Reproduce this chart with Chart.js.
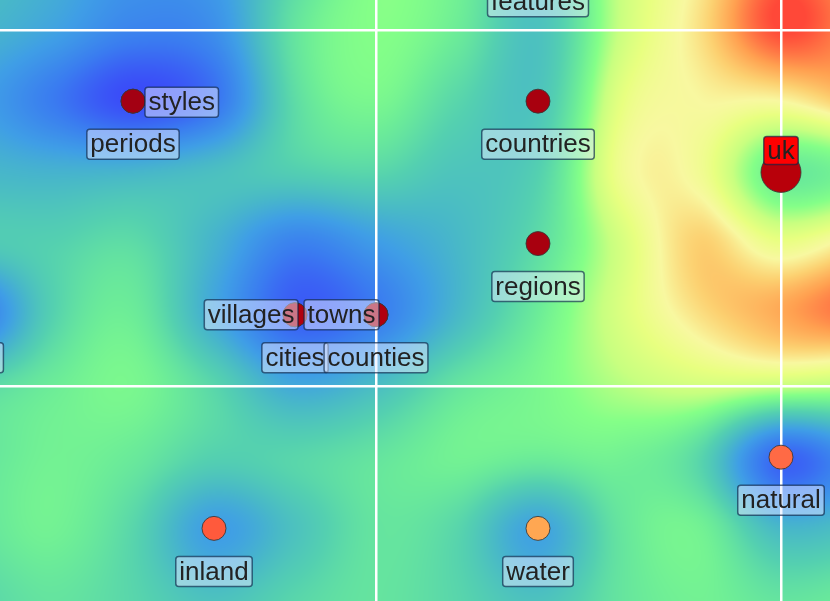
<!DOCTYPE html>
<html><head><meta charset="utf-8">
<script src="https://cdn.jsdelivr.net/npm/chart.js@4/dist/chart.umd.min.js"></script>
<style>html,body{margin:0;padding:0;background:#fff;overflow:hidden}#wrap{width:830px;height:601px}</style>
</head><body><div id="wrap"><canvas id="c" width="830" height="601"></canvas></div>
<script>
// ---- data ----
const words  = ['styles','periods','features','countries','uk','regions','villages','cities','towns','counties','parts','natural','inland','water'];
const wordX  = [-3, -3, 2, 2, 5, 2, -1, -1, 0, 0, -5, 5, -2, 2];
const wordY  = [ 4,  4, 6, 4, 3, 2,  1,  1, 1, 1,  1, -1, -2, -2];

// heat-map field at integer map nodes
const heatX = [-5,-4,-3,-2,-1,0,1,2,3,4,5,6];
const heatY = [6,5,4,3,2,1,0,-1,-2,-3,-4];
const heatRow6  = [0.42,0.35,0.25,0.28,0.50,0.65,0.60,0.45,0.72,0.84,0.97,0.92];
const heatRow5  = [0.38,0.30,0.18,0.22,0.55,0.65,0.58,0.42,0.72,0.86,1.00,0.94];
const heatRow4  = [0.30,0.15,0.00,0.12,0.52,0.62,0.50,0.43,0.77,0.83,0.83,0.90];
const heatRow3  = [0.38,0.36,0.37,0.41,0.47,0.50,0.43,0.48,0.80,0.81,0.58,0.62];
const heatRow2  = [0.45,0.48,0.52,0.36,0.17,0.27,0.38,0.52,0.74,0.88,0.79,0.86];
const heatRow1  = [0.12,0.48,0.58,0.32,0.06,0.15,0.38,0.58,0.75,0.86,0.92,0.97];
const heatRow0  = [0.50,0.58,0.62,0.50,0.32,0.40,0.55,0.62,0.70,0.74,0.72,0.70];
const heatRowM1 = [0.55,0.60,0.57,0.48,0.50,0.55,0.60,0.58,0.60,0.50,0.08,0.25];
const heatRowM2 = [0.55,0.60,0.50,0.28,0.42,0.55,0.50,0.30,0.55,0.60,0.38,0.42];
const heatRowM3 = [0.50,0.55,0.50,0.42,0.50,0.55,0.50,0.42,0.55,0.60,0.55,0.58];
const heatRowM4 = [0.50,0.55,0.52,0.48,0.52,0.55,0.52,0.48,0.55,0.58,0.55,0.55];
const heatValues = [heatRow6,heatRow5,heatRow4,heatRow3,heatRow2,heatRow1,heatRow0,heatRowM1,heatRowM2,heatRowM3,heatRowM4];

// ---- styles ----
const pointColors = ['#a30012','#a30012','#a8000f','#a8000f','#b8000a','#a8000f','#b0000e','#b0000e','#b0000e','#b0000e','#a8000f','#ff6a45','#ff5a3c','#ffa752'];
const pointRadii  = [12,12,12,12,20,12,12,12,12,12,12,12,12,12];
const labelSides  = ['right','below','below','below','above','below','left','below','left','below','below','below','below','below'];
const labelFills  = words.map(w => w === 'uk' ? 'rgba(255,0,0,1)' : 'rgba(230,235,255,0.5)');
const cmapStops  = [0, 0.15, 0.28, 0.38, 0.48, 0.58, 0.65, 0.72, 0.78, 0.83, 0.88, 0.93, 1];
const cmapColors = ['#3a4cf8','#3a7cf0','#3f9ee6','#48b8c8','#54d0b0','#6cec98','#84ff88','#c8ff80','#e8ff80','#f8f8a0','#fcd070','#ffa050','#ff4838'];

function hex(c){return [parseInt(c.slice(1,3),16),parseInt(c.slice(3,5),16),parseInt(c.slice(5,7),16)];}
const cmapRGB = cmapColors.map(hex);
function cmap(v){
  v = Math.max(0, Math.min(1, v));
  for (let i = 1; i < cmapStops.length; i++) {
    if (v <= cmapStops[i]) {
      const t = (v - cmapStops[i-1]) / (cmapStops[i] - cmapStops[i-1]);
      const a = cmapRGB[i-1], b = cmapRGB[i];
      return [a[0]+(b[0]-a[0])*t, a[1]+(b[1]-a[1])*t, a[2]+(b[2]-a[2])*t];
    }
  }
  return cmapRGB[cmapRGB.length-1];
}
function cub(p0,p1,p2,p3,t){return p1 + 0.5*t*(p2-p0 + t*(2*p0-5*p1+4*p2-p3 + t*(3*(p1-p2)+p3-p0)));}
function sampleHeat(fx, fy){
  const nr = heatValues.length, nc = heatValues[0].length;
  const ix = Math.floor(fx), iy = Math.floor(fy), tx = fx-ix, ty = fy-iy;
  const cl = (v,n)=>Math.max(0,Math.min(n-1,v));
  const rows = [];
  for (let j=-1;j<=2;j++){
    const r = heatValues[cl(iy+j,nr)];
    rows.push(cub(r[cl(ix-1,nc)], r[cl(ix,nc)], r[cl(ix+1,nc)], r[cl(ix+2,nc)], tx));
  }
  return cub(rows[0],rows[1],rows[2],rows[3],ty);
}

const heatPlugin = {
  id: 'heat',
  beforeDraw(chart){
    const {ctx, chartArea:a, scales} = chart;
    const w = Math.round(a.right-a.left), h = Math.round(a.bottom-a.top);
    if (!chart.$heat || chart.$heat.width !== w || chart.$heat.height !== h) {
      const off = document.createElement('canvas'); off.width = w; off.height = h;
      const octx = off.getContext('2d');
      const img = octx.createImageData(w, h);
      const sx = heatX[1]-heatX[0], sy = heatY[0]-heatY[1];
      const fxs = [];
      for (let i=0;i<w;i++) fxs.push((scales.x.getValueForPixel(a.left+i+0.5)-heatX[0])/sx);
      for (let j=0;j<h;j++){
        const fy = (heatY[0]-scales.y.getValueForPixel(a.top+j+0.5))/sy;
        for (let i=0;i<w;i++){
          const c = cmap(sampleHeat(fxs[i], fy));
          const k = (j*w+i)*4;
          img.data[k]=c[0]; img.data[k+1]=c[1]; img.data[k+2]=c[2]; img.data[k+3]=255;
        }
      }
      octx.putImageData(img,0,0);
      chart.$heat = off;
    }
    ctx.drawImage(chart.$heat, a.left, a.top);
  }
};

function roundRect(ctx,x,y,w,h,r){
  ctx.beginPath();
  ctx.moveTo(x+r,y); ctx.lineTo(x+w-r,y); ctx.quadraticCurveTo(x+w,y,x+w,y+r);
  ctx.lineTo(x+w,y+h-r); ctx.quadraticCurveTo(x+w,y+h,x+w-r,y+h);
  ctx.lineTo(x+r,y+h); ctx.quadraticCurveTo(x,y+h,x,y+h-r);
  ctx.lineTo(x,y+r); ctx.quadraticCurveTo(x,y,x+r,y); ctx.closePath();
}

const labelPlugin = {
  id: 'wordLabels',
  afterDatasetsDraw(chart){
    const ctx = chart.ctx;
    const meta = chart.getDatasetMeta(0);
    ctx.save();
    ctx.font = '26px "Liberation Sans", Arial, sans-serif';
    ctx.textAlign = 'center';
    ctx.textBaseline = 'middle';
    meta.data.forEach((el, i) => {
      const txt = words[i];
      const r = pointRadii[i];
      const tw = ctx.measureText(txt).width;
      const padX = 3.5;
      const bw = tw + 2*padX, bh = 30;
      let bx, by;
      const side = labelSides[i];
      if (side === 'below') { bx = el.x - bw/2; by = el.y + r + 16; }
      else if (side === 'right') { bx = el.x + r; by = el.y + 1 - bh/2; }
      else if (side === 'left') { bx = el.x + 3 - bw; by = el.y - bh/2; }
      else { bx = el.x - bw/2 + 0; by = el.y - 8 - (bh-2); }
      const bhh = side === 'above' ? bh-2 : bh;
      roundRect(ctx, bx, by, bw, bhh, 3);
      ctx.fillStyle = labelFills[i];
      ctx.fill();
      ctx.lineWidth = 1.5;
      ctx.strokeStyle = 'rgba(10,35,70,0.65)';
      ctx.stroke();
      ctx.fillStyle = '#222222';
      ctx.fillText(txt, bx + bw/2, by + bhh/2 + 1);
    });
    ctx.restore();
  }
};

new Chart(document.getElementById('c'), {
  type: 'scatter',
  data: {
    datasets: [{
      data: words.map((w,i)=>({x: wordX[i], y: wordY[i]})),
      pointRadius: pointRadii,
      pointHoverRadius: pointRadii,
      backgroundColor: pointColors,
      borderColor: 'rgba(55,55,55,0.85)',
      borderWidth: 1,
      clip: false
    }]
  },
  options: {
    responsive: false,
    animation: false,
    layout: { padding: 0, autoPadding: false },
    plugins: { legend: {display:false}, tooltip: {enabled:false} },
    scales: {
      x: { type:'linear', min:-4.642, max:5.605,
           ticks:{display:false, stepSize:5, includeBounds:false},
           grid:{color:'#ffffff', lineWidth:2.5, drawTicks:false}, border:{display:false} },
      y: { type:'linear', min:-3.020, max:5.421,
           ticks:{display:false, stepSize:5, includeBounds:false},
           grid:{color:'#ffffff', lineWidth:2.5, drawTicks:false}, border:{display:false} }
    }
  },
  plugins: [heatPlugin, labelPlugin]
});
</script>
</body></html>
